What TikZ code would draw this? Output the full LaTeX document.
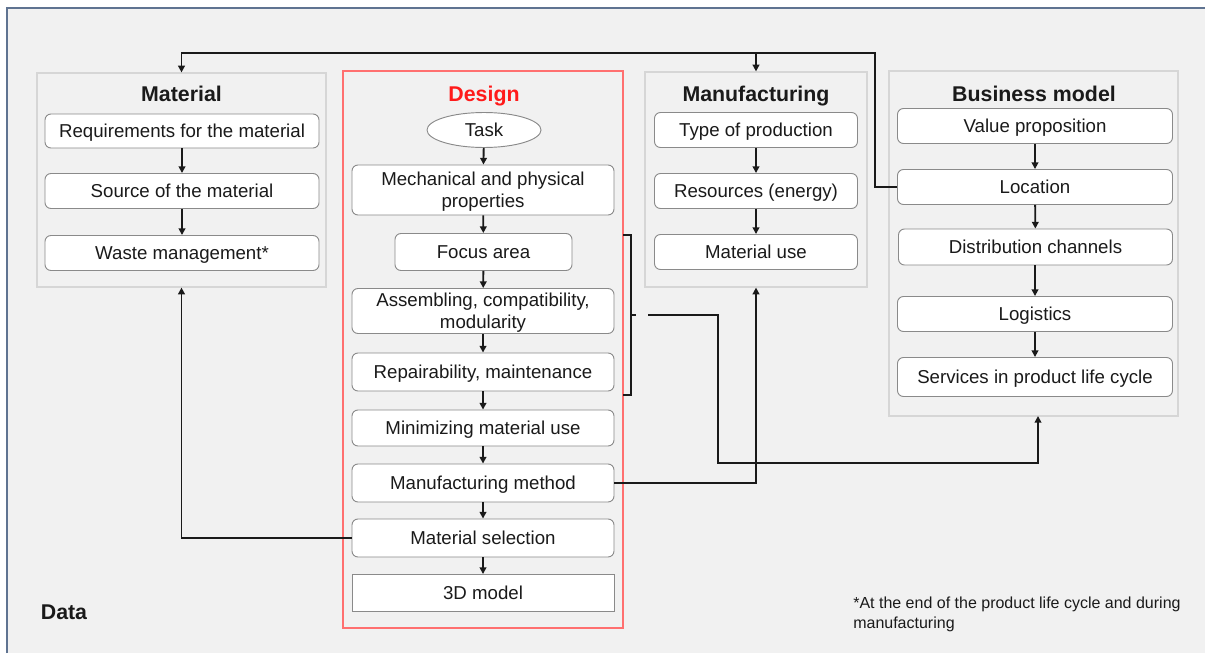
\documentclass[tikz,border=0pt]{standalone}
\usepackage{fontspec}
\setmainfont{Liberation Sans}
\usetikzlibrary{arrows.meta,shapes.geometric}
\definecolor{bg}{HTML}{F1F1F1}
\definecolor{frame}{HTML}{5F7391}
\definecolor{panelborder}{HTML}{D6D6D6}
\definecolor{boxborder}{HTML}{8A8A8A}
\definecolor{designborder}{HTML}{FF7070}
\definecolor{designred}{HTML}{FF1A1A}
\definecolor{ink}{HTML}{1A1A1A}
\begin{document}
\begin{tikzpicture}[x=0.75pt,y=-0.75pt,
  bw/.style={minimum width=#1*0.75pt},
  bh/.style={minimum height=#1*0.75pt},
  box/.style={draw=boxborder, fill=white, rounded corners=4.5pt, line width=0.7pt,
    inner sep=0pt, text=ink, font=\fontsize{14}{16.5}\selectfont, align=center,
    text height=12pt, text depth=2pt},
  twolines/.style={text height=28.5pt, text depth=2pt},
  sqbox/.style={box, rounded corners=0pt},
  ovalbox/.style={box, ellipse, rounded corners=0pt},
  panel/.style={draw=panelborder, line width=0.9pt, inner sep=0pt},
  title/.style={font=\fontsize{16}{19}\selectfont\bfseries, text=ink, inner sep=0pt,
    text height=13.5pt, text depth=2pt},
  conn/.style={draw=ink, line width=1.4pt, -{Triangle[length=5pt,width=5pt]}},
  plain/.style={draw=ink, line width=1.4pt}]

% background
\useasboundingbox (0,0) rectangle (1205,653);
\fill[white] (0,0) rectangle (1205,653);
\fill[bg] (7,8) rectangle (1205,653);
\draw[frame, line width=1.2pt] (7,653) -- (7,8) -- (1205,8);

% Material
\node[panel, bw=289, bh=214] (matp) at (181.5,180) {};
\node[title] (matt) at (181.5,94) {Material};
\node[box, bw=274, bh=34] (req) at (182,131) {Requirements for the material};
\node[box, bw=274, bh=35] (src) at (182,191) {Source of the material};
\node[box, bw=274, bh=35] (waste) at (182,253) {Waste management*};
\draw[conn] (req) -- (src);
\draw[conn] (src) -- (waste);

% Design
\node[panel, draw=designborder, bw=280, bh=557] (desp) at (483,349.5) {};
\node[title, text=designred] (dest) at (484,94) {Design};
\node[ovalbox, bw=114, bh=35] (task) at (484,130) {Task};
\node[box, twolines, bw=262, bh=50] (mech) at (483,190) {Mechanical and physical\\properties};
\node[box, bw=177, bh=37] (focus) at (483.5,252) {Focus area};
\node[box, twolines, bw=262, bh=45] (asm) at (483,311) {Assembling, compatibility,\\modularity};
\node[box, bw=262, bh=38] (rep) at (483,372) {Repairability, maintenance};
\node[box, bw=262, bh=36] (minm) at (483,428) {Minimizing material use};
\node[box, bw=262, bh=38] (mm) at (483,483) {Manufacturing method};
\node[box, bw=262, bh=38] (ms) at (483,538) {Material selection};
\node[sqbox, bw=262, bh=37] (td) at (483,593) {3D model};
\draw[conn] (task) -- (mech);
\draw[conn] (mech) -- (focus);
\draw[conn] (focus) -- (asm);
\draw[conn] (asm) -- (rep);
\draw[conn] (rep) -- (minm);
\draw[conn] (minm) -- (mm);
\draw[conn] (mm) -- (ms);
\draw[conn] (ms) -- (td);

% Manufacturing
\node[panel, bw=222, bh=215] (manp) at (756,179.5) {};
\node[title] (mant) at (756,94) {Manufacturing};
\node[box, bw=203, bh=35] (top) at (756,130) {Type of production};
\node[box, bw=203, bh=35] (res) at (756,191) {Resources (energy)};
\node[box, bw=203, bh=35] (mu) at (756,252) {Material use};
\draw[conn] (top) -- (res);
\draw[conn] (res) -- (mu);

% Business model
\node[panel, bw=289, bh=345] (bizp) at (1033.5,243.5) {};
\node[title] (bizt) at (1034,94) {Business model};
\node[box, bw=275, bh=35] (vp) at (1035,126) {Value proposition};
\node[box, bw=275, bh=35] (loc) at (1035,187) {Location};
\node[box, bw=274, bh=36] (dc) at (1035.5,247) {Distribution channels};
\node[box, bw=275, bh=35] (logi) at (1035,314) {Logistics};
\node[box, bw=275, bh=39] (svc) at (1035,377) {Services in product life cycle};
\draw[conn] (vp) -- (loc);
\draw[conn] (loc) -- (dc);
\draw[conn] (dc.south -| logi.north) -- (logi);
\draw[conn] (logi) -- (svc);

% Location -> Material & Manufacturing
\coordinate (c1) at (875,53);
\coordinate (j1) at (756,53);
\draw[conn] (loc.west) -| (c1) -| (matp.north);
\draw[conn] (j1) -- (manp.north);

% bracket and link to business model
\draw[plain] (623,235) -- (631,235) -- (631,395) -- (623,395);
\draw[plain] (631,315) -- (636,315);
\coordinate (brk) at (648,315);
\coordinate (k1) at (718,463);
\coordinate (bzin) at (1038,416);
\draw[conn] (brk) -| (k1) -| (bzin);

% Manufacturing method -> Manufacturing
\draw[conn] (mm.east) -| (manp.south);
% Material selection -> Material
\draw[conn] (ms.west) -| (matp.south);

% texts
\node[font=\fontsize{16}{19}\selectfont\bfseries, text=ink] (data) at (64,612) {Data};
\node[anchor=north west, inner sep=0pt, align=left, text=ink,
  font=\fontsize{12}{15}\selectfont] (note) at (853,597)
  {*At the end of the product life cycle and during\\manufacturing};
\end{tikzpicture}
\end{document}
